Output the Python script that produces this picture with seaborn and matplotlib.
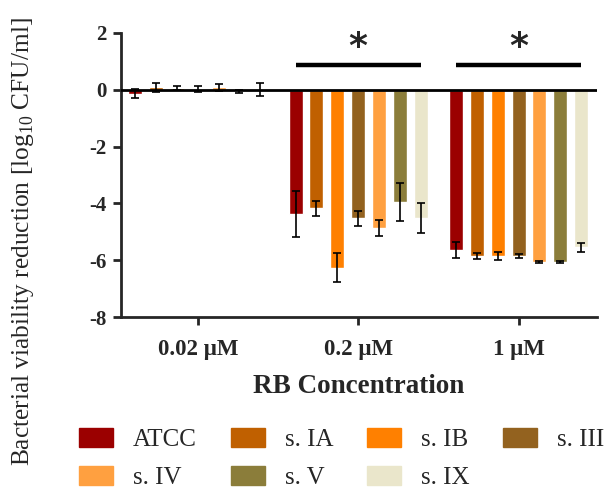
import matplotlib
matplotlib.use("Agg")
import matplotlib.pyplot as plt
import matplotlib.patches as mpatches
import numpy as np
import pandas as pd
import seaborn as sns

# Concentrations, strains and measured reductions (mean and SD)
concentrations = ["0.02 \u03bcM", "0.2 \u03bcM", "1 \u03bcM"]
strains = ["ATCC", "s. IA", "s. IB", "s. III", "s. IV", "s. V", "s. IX"]
colors = ["#9B0000", "#C06000", "#FF8000", "#93621F", "#FFA040", "#8B7D3A", "#EAE6CB"]

mean_002 = [-0.14, 0.08, 0.07, 0.03, 0.08, -0.05, 0.02]
mean_02 = [-4.38, -4.18, -6.26, -4.53, -4.86, -3.96, -4.51]
mean_1 = [-5.65, -5.85, -5.85, -5.85, -6.06, -6.06, -5.55]

sd_002 = [0.17, 0.15, 0.07, 0.10, 0.12, 0.05, 0.23]
sd_02 = [0.82, 0.26, 0.50, 0.25, 0.29, 0.66, 0.52]
sd_1 = [0.28, 0.09, 0.13, 0.07, 0.05, 0.05, 0.17]

significant = ["0.2 \u03bcM", "1 \u03bcM"]

means = [mean_002, mean_02, mean_1]
sds = [sd_002, sd_02, sd_1]

df = pd.DataFrame(
    [(c, s, means[i][j], sds[i][j])
     for i, c in enumerate(concentrations)
     for j, s in enumerate(strains)],
    columns=["conc", "strain", "mean", "sd"],
)

sns.set_theme(style="ticks")
plt.rcParams["font.family"] = ["Liberation Serif", "DejaVu Serif"]
plt.rcParams["mathtext.fontset"] = "custom"
plt.rcParams["mathtext.rm"] = "Liberation Serif"

fig = plt.figure(figsize=(6.10, 4.97), dpi=100)
ax = fig.add_axes([0.198, 0.362, 0.781, 0.572])

sns.barplot(
    data=df, x="conc", y="mean", hue="strain",
    order=concentrations, hue_order=strains,
    palette=colors, errorbar=None, width=0.91, gap=0.33,
    saturation=1, ax=ax, legend=False,
)

# error bars on each bar, taken from the drawn bar geometry
bar_containers = list(ax.containers)
for j, container in enumerate(bar_containers):
    for i, bar in enumerate(container.patches):
        xc = bar.get_x() + bar.get_width() / 2
        ax.errorbar(xc, means[i][j], yerr=sds[i][j], fmt="none",
                    ecolor="black", elinewidth=1.2, capsize=3, capthick=1.2,
                    zorder=5)

ax.axhline(0, color="black", lw=2, zorder=6)

# significance bars with asterisks
for c in significant:
    xi = concentrations.index(c)
    ax.plot([xi - 0.39, xi + 0.39], [0.85, 0.85], color="black", lw=3.2,
            solid_capstyle="butt")
    ax.text(xi, 0.9, "*", ha="center", va="bottom", fontsize=26,
            fontweight="bold", family="DejaVu Sans")

ax.set_ylim(-8, 2)
ax.set_xlim(-0.48, 2.49)
ax.set_yticks([2, 0, -2, -4, -6, -8])
ax.set_yticklabels(["2", "0", "-2", "-4", "-6", "-8"])
for s in ["top", "right"]:
    ax.spines[s].set_visible(False)
for s in ["left", "bottom"]:
    ax.spines[s].set_linewidth(2)
ax.tick_params(axis="both", width=2, length=6, direction="out")
ax.tick_params(axis="y", labelsize=15, pad=4)
ax.tick_params(axis="x", labelsize=16.5, pad=10)
for lbl in ax.get_xticklabels() + ax.get_yticklabels():
    lbl.set_fontweight("bold")

ax.set_xlabel("RB Concentration", fontsize=19.5, fontweight="bold", labelpad=10)
ax.set_ylabel("Bacterial viability reduction [log$_{10}$ CFU/ml]", fontsize=18.3)
ax.yaxis.set_label_coords(-0.178, 0.264)

# legend entries filled row by row across four columns
handles = [mpatches.Patch(color=c, label=s) for s, c in zip(strains, colors)]
ncol = 4
order = [k for col in range(ncol) for k in range(col, len(handles), ncol)]
fig.legend(handles=[handles[k] for k in order], ncol=ncol, loc="lower left",
           bbox_to_anchor=(0.093, -0.03), frameon=False, fontsize=18,
           handlelength=1.36, handleheight=0.8, handletextpad=0.8,
           columnspacing=1.35, labelspacing=0.6, borderpad=0.4)

fig.savefig("out.png", dpi=100)
